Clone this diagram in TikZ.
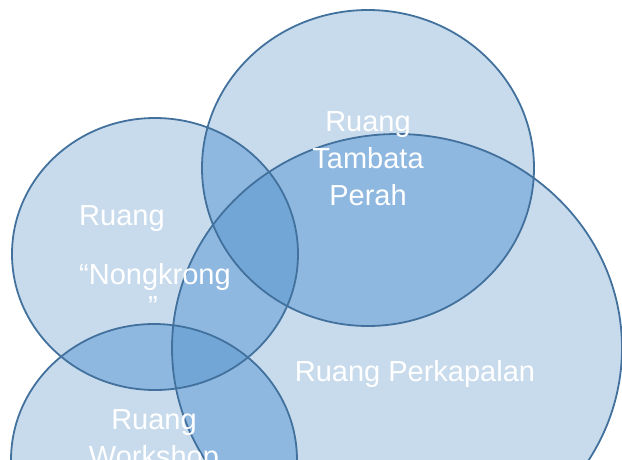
\documentclass[tikz,border=0pt]{standalone}
\usepackage{fontspec}
\setmainfont{Liberation Sans}
\usetikzlibrary{positioning}
\definecolor{roomone}{HTML}{C8DBED}
\definecolor{roomtwo}{HTML}{8FB8E0}
\definecolor{roomthree}{HTML}{72A6D6}
\definecolor{roomline}{HTML}{41719C}
\tikzset{
  roomedge/.style={draw=roomline,line width=1.8pt},
  roomlabel/.style={text=white,font=\fontsize{29}{37}\selectfont,inner sep=0pt}
}
\def\roomleft{(155,254) ellipse [x radius=143, y radius=136]}
\def\roombottom{(154,460) ellipse [x radius=143, y radius=136]}
\def\roomtop{(368,168) ellipse [x radius=166, y radius=158]}
\def\roombig{(397,348) ellipse [x radius=225, y radius=214]}
\begin{document}
\begin{tikzpicture}[x=1pt,y=-1pt]
 \useasboundingbox (0,0) rectangle (622,459);
 % rooms
 \fill[roomone] \roomleft;
 \fill[roomone] \roombottom;
 \fill[roomone] \roomtop;
 \fill[roomone] \roombig;
 % overlaps of two
 \begin{scope}
  \clip \roomleft;
  \fill[roomtwo] \roomtop;
  \fill[roomtwo] \roombig;
  \fill[roomtwo] \roombottom;
 \end{scope}
 \begin{scope}
  \clip \roombig;
  \fill[roomtwo] \roomtop;
  \fill[roomtwo] \roombottom;
 \end{scope}
 % overlaps of three
 \begin{scope}
  \clip \roomleft;
  \clip \roombig;
  \fill[roomthree] \roomtop;
  \fill[roomthree] \roombottom;
 \end{scope}
 \draw[roomedge] \roomleft;
 \draw[roomedge] \roombottom;
 \draw[roomedge] \roomtop;
 \draw[roomedge] \roombig;
 % labels
 \node[roomlabel,align=center,anchor=base] (tambata) at (368,205) {Ruang\\Tambata\\Perah};
 \node[roomlabel,align=left,anchor=base west] (nongkrong) at (79,316)
   {Ruang\\[22pt]“Nongkrong\\[-5pt]\hspace*{69pt}”};
 \node[roomlabel,anchor=base] (perkapalan) at (415,381) {Ruang Perkapalan};
 \node[roomlabel,align=center,anchor=base] (workshop) at (154,466) {Ruang\\Workshop};
\end{tikzpicture}
\end{document}
